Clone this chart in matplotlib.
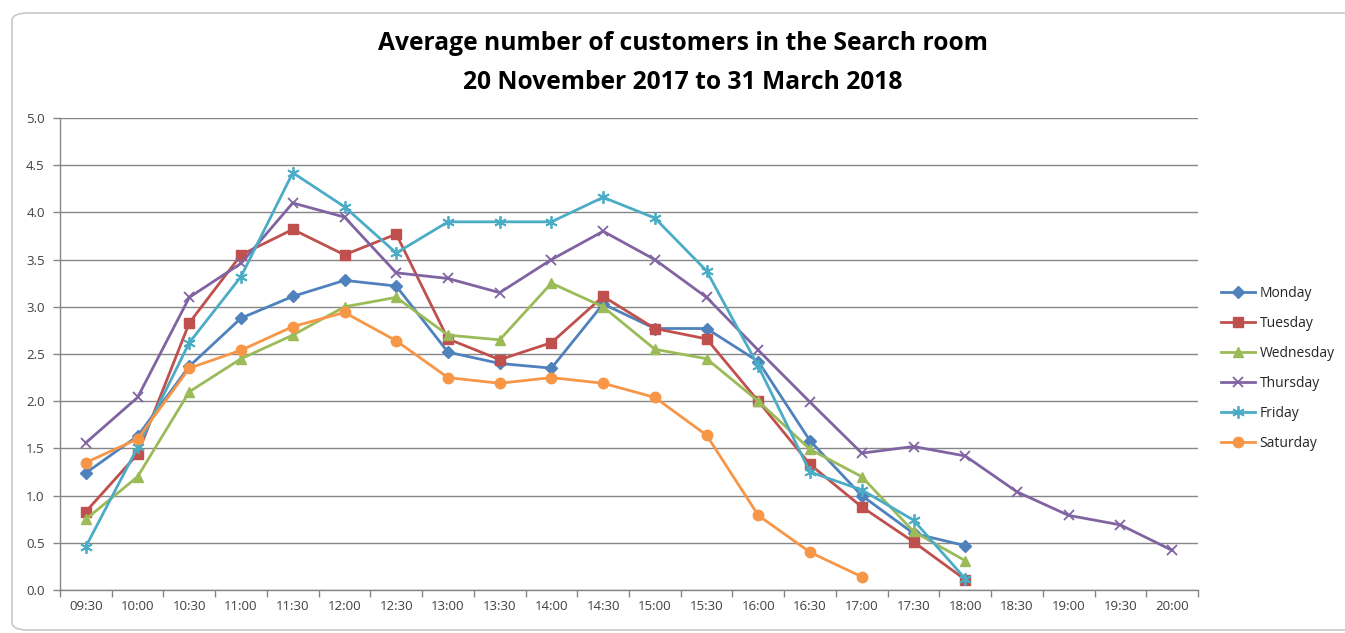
import matplotlib
matplotlib.use("Agg")
import matplotlib.pyplot as plt
from matplotlib.patches import FancyBboxPatch
from matplotlib.ticker import MultipleLocator, FixedLocator, NullFormatter

times = ["09:30", "10:00", "10:30", "11:00", "11:30", "12:00", "12:30", "13:00",
         "13:30", "14:00", "14:30", "15:00", "15:30", "16:00", "16:30", "17:00",
         "17:30", "18:00", "18:30", "19:00", "19:30", "20:00"]

monday = [1.24, 1.63, 2.37, 2.88, 3.11, 3.28, 3.22, 2.52, 2.40, 2.35, 3.03, 2.77,
          2.77, 2.42, 1.58, 1.00, 0.60, 0.47]
tuesday = [0.83, 1.44, 2.83, 3.55, 3.82, 3.55, 3.77, 2.66, 2.44, 2.62, 3.11, 2.77,
           2.66, 2.00, 1.33, 0.88, 0.51, 0.11]
wednesday = [0.75, 1.20, 2.10, 2.45, 2.70, 3.00, 3.10, 2.70, 2.65, 3.25, 3.00, 2.55,
             2.45, 2.00, 1.49, 1.20, 0.62, 0.31]
thursday = [1.56, 2.04, 3.10, 3.46, 4.10, 3.95, 3.36, 3.30, 3.15, 3.50, 3.80, 3.50,
            3.10, 2.54, 1.99, 1.45, 1.52, 1.42, 1.04, 0.79, 0.69, 0.42]
friday = [0.46, 1.51, 2.62, 3.32, 4.42, 4.06, 3.57, 3.90, 3.90, 3.90, 4.16, 3.94,
          3.38, 2.37, 1.25, 1.06, 0.74, 0.12]
saturday = [1.35, 1.60, 2.35, 2.54, 2.79, 2.94, 2.64, 2.25, 2.19, 2.25, 2.19, 2.04,
            1.64, 0.79, 0.40, 0.14]

series = [
    ("Monday", monday, "#4F81BD", "D", 6),
    ("Tuesday", tuesday, "#C0504D", "s", 7.5),
    ("Wednesday", wednesday, "#9BBB59", "^", 7.5),
    ("Thursday", thursday, "#8064A2", "x", 7),
    ("Friday", friday, "#4BACC6", (6, 2, 0), 9),
    ("Saturday", saturday, "#F79646", "o", 7.5),
]

plt.rcParams['font.family'] = ['Open Sans', 'DejaVu Sans']

W, H = 1345, 633
fig = plt.figure(figsize=(W / 100, H / 100), dpi=100)

# chart border
border = FancyBboxPatch((12 / W, 3 / H), (1400 - 12) / W, (620 - 3) / H,
                        boxstyle="round,pad=0,rounding_size=0.012",
                        transform=fig.transFigure, fill=False,
                        edgecolor="#C8C8C8", linewidth=1.2, clip_on=False)
fig.patches.append(border)

L, R, T, B = 60, 1198, 118, 590
ax = fig.add_axes([L / W, 1 - B / H, (R - L) / W, (B - T) / H])

for name, vals, color, marker, ms in series:
    xs = list(range(len(vals)))
    mew = 1.3 if marker in ("x",) or isinstance(marker, tuple) else 1
    ax.plot(xs, vals, color=color, linewidth=2, marker=marker, markersize=ms,
            markeredgewidth=mew, markerfacecolor=color, markeredgecolor=color,
            label=name)

ax.set_xlim(-0.5, len(times) - 0.5)
ax.set_ylim(0, 5.0)
ax.yaxis.set_major_locator(MultipleLocator(0.5))
ax.set_yticklabels([f"{v:.1f}" for v in ax.get_yticks()])
ax.xaxis.set_major_locator(FixedLocator([i - 0.5 for i in range(len(times) + 1)]))
ax.xaxis.set_major_formatter(NullFormatter())
ax.xaxis.set_minor_locator(FixedLocator(list(range(len(times)))))
ax.set_xticklabels(times, minor=True)
ax.tick_params(axis="x", which="minor", length=0, pad=7, labelsize=9.5, colors="#404040")
ax.tick_params(axis="x", which="major", length=5, color="#868686", width=1)
ax.tick_params(axis="y", length=5, color="#868686", width=1, labelsize=9.5,
               colors="#404040", pad=6)
ax.tick_params(axis="x", which="minor", labelcolor="#404040")

ax.grid(axis="y", color="#868686", linewidth=1)
ax.set_axisbelow(True)
for s in ("top", "right"):
    ax.spines[s].set_visible(False)
for s in ("left", "bottom"):
    ax.spines[s].set_color("#868686")
    ax.spines[s].set_linewidth(1)

fig.text(683 / W, 1 - 63 / H,
         "Average number of customers in the Search room\n20 November 2017 to 31 March 2018",
         ha="center", va="center", fontsize=17.7, fontweight="bold",
         linespacing=1.72, color="#000000")

leg = fig.legend(loc="upper left", bbox_to_anchor=(1215 / W, 1 - 280 / H),
                 frameon=False, fontsize=10, handlelength=2.5,
                 labelspacing=1.08, handletextpad=0.3, borderaxespad=0)
for t in leg.get_texts():
    t.set_color("#262626")

fig.savefig("out.png", dpi=100)
